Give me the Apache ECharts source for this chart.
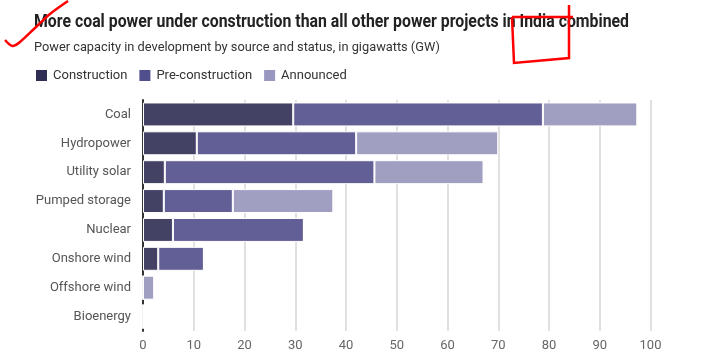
<!DOCTYPE html>
<html><head><meta charset="utf-8">
<script src="https://cdn.jsdelivr.net/npm/echarts@6/dist/echarts.min.js"></script>
<style>html,body{margin:0;padding:0;background:#fff}#c{width:711px;height:360px}</style>
</head><body><div id="c"></div>
<script>
const categories = ['Coal','Hydropower','Utility solar','Pumped storage','Nuclear','Onshore wind','Offshore wind','Bioenergy'];
const construction = [29.6, 10.6, 4.3, 4.1, 5.9, 3.0, 0, 0];
const preConstruction = [49.2, 31.4, 41.3, 13.6, 25.8, 9.0, 0, 0];
const announced = [18.6, 28.0, 21.5, 19.8, 0, 0, 2.2, 0.3];
const xTicks = [0,10,20,30,40,50,60,70,80,90,100];
const titleText = 'More coal power under construction than all other power projects in India combined';
const subtitleText = 'Power capacity in development by source and status, in gigawatts (GW)';

const titleFont = 'bold 19px Roboto';
const cv = document.createElement('canvas').getContext('2d');
cv.font = titleFont;
const titleScale = 595 / cv.measureText(titleText).width;

const chart = echarts.init(document.getElementById('c'), null, {renderer:'canvas'});
const barStyle = (c) => ({color:c, borderColor:'#fff', borderWidth:1});
chart.setOption({
  animation:false,
  title:{
    text:subtitleText,
    left:34, top:41, padding:0,
    textStyle:{fontFamily:'Roboto',fontWeight:'normal',fontSize:12.8,color:'#333'}
  },
  legend:{
    left:34, top:68, padding:0, itemWidth:13, itemHeight:13, itemGap:10,
    textStyle:{fontFamily:'Roboto',fontSize:13,color:'#333'},
    data:[
      {name:'Construction',icon:'rect',itemStyle:{color:'#2f2d53'}},
      {name:'Pre-construction',icon:'rect',itemStyle:{color:'#504e8c'}},
      {name:'Announced',icon:'rect',itemStyle:{color:'#9997c0'}}
    ]
  },
  grid:{left:143, right:60.5, top:100, bottom:29, containLabel:false},
  xAxis:{type:'value', min:0, max:100, interval:10,
    axisLine:{show:false}, axisTick:{show:false},
    splitLine:{lineStyle:{color:'#d6d6d6',width:1.5}},
    axisLabel:{fontFamily:'Roboto',fontSize:13,color:'#666',margin:8,
      formatter:(v)=> xTicks.includes(v)? String(v):''}
  },
  yAxis:{type:'category', data:categories, inverse:true,
    axisLine:{lineStyle:{color:'#333',width:2}}, axisTick:{show:false},
    axisLabel:{fontFamily:'Roboto',fontSize:13,color:'#555',margin:12}
  },
  series:[
    {name:'Construction',type:'bar',stack:'s',data:construction,barCategoryGap:'17%',itemStyle:barStyle('#444264')},
    {name:'Pre-construction',type:'bar',stack:'s',data:preConstruction,itemStyle:barStyle('#625f96')},
    {name:'Announced',type:'bar',stack:'s',data:announced,itemStyle:barStyle('#a09fc2')}
  ],
  graphic:[
    {type:'text',left:34,top:13,scaleX:titleScale,originX:0,
      style:{text:titleText,font:titleFont,fill:'#222'}},
    {type:'polyline',shape:{points:[[5,40],[9,44],[13,46],[20,42],[35,28],[50,14],[68,1]],smooth:0.3},style:{stroke:'#f00',lineWidth:2.5,fill:null},z:100},
    {type:'polyline',shape:{points:[[512,17],[573,17]]},style:{stroke:'#f00',lineWidth:2.5},z:100},
    {type:'polyline',shape:{points:[[569,5],[569,58],[514,63],[512,17]]},style:{stroke:'#f00',lineWidth:2.5,fill:null},z:100}
  ]
});
</script></body></html>
